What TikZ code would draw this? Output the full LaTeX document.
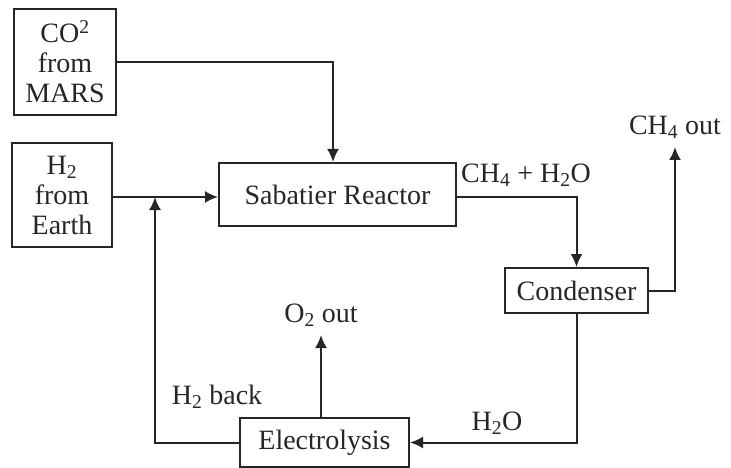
\documentclass[tikz,border=0pt]{standalone}
\usepackage{fontspec}
\setmainfont{Liberation Serif}
\usepackage{tikz}
\usetikzlibrary{positioning,arrows.meta}
\definecolor{ink}{HTML}{262626}

\begin{document}
\begin{tikzpicture}[
  x=1pt, y=-1pt,
  box/.style={draw=ink, line width=2pt, align=center, text=ink,
              inner sep=0pt, font=\fontsize{28}{30}\selectfont},
  lbl/.style={text=ink, inner sep=0pt, font=\fontsize{28}{30}\selectfont},
  arrow/.style={-{Latex[length=13pt,width=12pt]}, line width=2pt, draw=ink}
]
\useasboundingbox (0,0) rectangle (731,468);

% --- sources ---
\node[box, minimum width=102pt, minimum height=106pt] (co2) at (65,62) {CO\textsuperscript{2}\\from\\MARS};
\node[box, minimum width=100pt, minimum height=104pt] (h2) at (62,195) {H\textsubscript{2}\\from\\Earth};

% --- process ---
\node[box, minimum width=237pt, minimum height=63pt] (sab) at (337.5,194.5) {Sabatier Reactor};
\node[box, minimum width=143pt, minimum height=45pt] (cond) at (576.5,290.5) {Condenser};
\node[box, minimum width=169pt, minimum height=49pt] (elec) at (324.5,442.5) {Electrolysis};

% --- free ends ---
\coordinate (join) at (155,197);
\coordinate (ch4) at (675,147);
\coordinate (o2) at (321,335);

% --- flows ---
\draw[arrow] (co2.east) -| ([xshift=-4.5pt]sab.north);
\draw[arrow] (h2.east |- join) -- (sab.west |- join);
\draw[arrow] (elec.west) -| (join);
\draw[arrow] (sab.east |- join) -| (cond.north);
\draw[arrow] (cond.east) -| (ch4);
\draw[arrow] (cond.south) |- (elec.east);
\draw[arrow] (elec.north -| o2) -- (o2);

% --- labels ---
\node[lbl, anchor=west] (mix) at (461,175) {CH\textsubscript{4} + H\textsubscript{2}O};
\node[lbl, above=8pt of ch4] (ch4lbl) {CH\textsubscript{4} out};
\node[lbl, above=8pt of o2] (o2lbl) {O\textsubscript{2} out};
\node[lbl] (back) at (217,397) {H\textsubscript{2} back};
\node[lbl] (water) at (497,423) {H\textsubscript{2}O};

\end{tikzpicture}
\end{document}
